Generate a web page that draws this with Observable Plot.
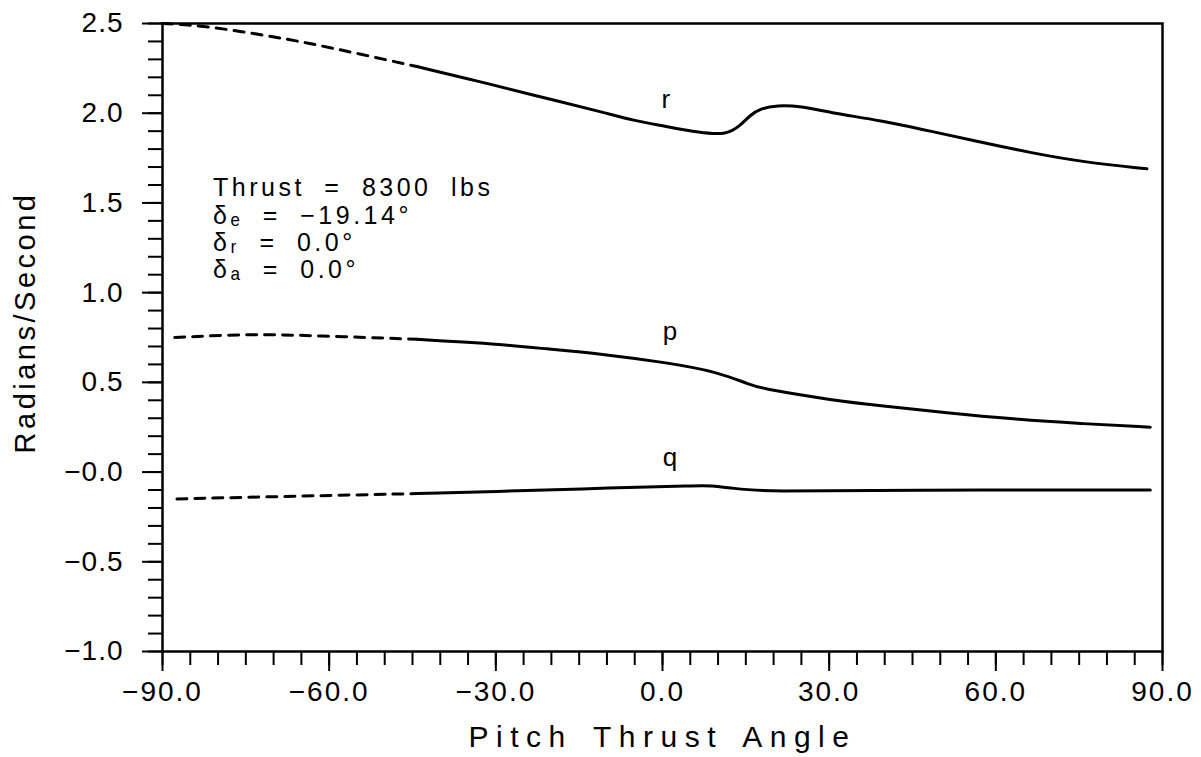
<!DOCTYPE html>
<html><head><meta charset="utf-8">
<script src="https://cdn.jsdelivr.net/npm/d3@7"></script>
<script src="https://cdn.jsdelivr.net/npm/@observablehq/plot@0.6"></script>
<style>
body{margin:0;background:#fff;overflow:hidden}
#chart svg{display:block}
g[aria-label="x-axis tick label"] text{letter-spacing:2px}
g[aria-label="y-axis tick label"] text{letter-spacing:1px}
</style></head><body><div id="chart"></div>
<script>
// Pitch thrust angle (deg) and rate (rad/s)
const rAngle = [-90, -83.3, -72.5, -63.5, -54.5, -44.2, -33.4, -24.4, -10.0, -5.3, 0, 6.8, 11.6, 14.0, 15.8, 17.6, 20.6, 24.8, 30.7, 39.2, 48.2, 57.2, 66.2, 75.2, 87.2];
const rRate  = [2.50, 2.49, 2.44, 2.39, 2.33, 2.26, 2.18, 2.11, 2.00, 1.96, 1.93, 1.89, 1.88, 1.93, 1.99, 2.025, 2.045, 2.04, 2.00, 1.96, 1.90, 1.84, 1.78, 1.73, 1.69];
const pAngle = [-87.8, -74.3, -62.2, -44.2, -32.3, -20.3, -11.3, 0.8, 9.8, 15.8, 18.8, 30.7, 39.2, 51.2, 63.1, 75.2, 87.8];
const pRate  = [0.75, 0.77, 0.76, 0.74, 0.72, 0.685, 0.66, 0.61, 0.56, 0.485, 0.46, 0.40, 0.37, 0.33, 0.295, 0.27, 0.25];
const qAngle = [-87.4, -74.3, -44.2, -20.3, -11.3, 6.8, 8.7, 12.5, 18.8, 42.8, 87.8];
const qRate  = [-0.15, -0.14, -0.12, -0.10, -0.09, -0.075, -0.075, -0.09, -0.11, -0.10, -0.10];
const dashEnd = -44.2; // curves are dashed up to this angle

const xTicks = [-90, -60, -30, 0, 30, 60, 90];
const yTicks = [-1.0, -0.5, 0.0, 0.5, 1.0, 1.5, 2.0, 2.5];
const xTitle = "Pitch Thrust Angle";
const yTitle = "Radians/Second";
const noteLines = ["Thrust = 8300 lbs", "δₑ = −19.14°", "δᵣ = 0.0°", "δₐ = 0.0°"];
const curveLabels = [
  {label: "r", angle: 0.6, rate: 2.075},
  {label: "p", angle: 1.35, rate: 0.78},
  {label: "q", angle: 1.35, rate: 0.08}
];

const rows = (series, a, v) => a.map((x, i) => ({series, angle: x, rate: v[i]}));
const data = [...rows("r", rAngle, rRate), ...rows("p", pAngle, pRate), ...rows("q", qAngle, qRate)];
const dashed = data.filter(d => d.angle <= dashEnd);
const solid = data.filter(d => d.angle >= dashEnd);

const minus = s => s.replace("-", "\u2212");
const fmtY = d => d === 0 ? "\u22120.0" : minus(d.toFixed(1));
const fmtX = d => minus(d.toFixed(1));

const xMinor = d3.range(-90, 91, 5);
const yMinor = d3.range(-10, 26, 1).map(d => d / 10);

const chart = Plot.plot({
  width: 1201, height: 757,
  marginLeft: 162, marginRight: 39, marginTop: 23, marginBottom: 106,
  x: {domain: [-90, 90], label: null},
  y: {domain: [-1, 2.5], label: null},
  style: {fontFamily: "'Liberation Sans', Arial, sans-serif", fontSize: "28px", color: "black", background: "white"},
  marks: [
    Plot.axisY(yMinor, {tickSize: 14, tickFormat: () => "", strokeWidth: 2, label: null}),
    Plot.axisY(yTicks, {tickSize: 20, tickPadding: 19, tickFormat: fmtY, strokeWidth: 2, fontSize: 28, label: null}),
    Plot.axisX(xMinor, {tickSize: 14, tickFormat: () => "", strokeWidth: 2, label: null}),
    Plot.axisX(xTicks, {tickSize: 20, tickPadding: 10, tickFormat: fmtX, strokeWidth: 2, fontSize: 28, label: null}),
    Plot.frame({stroke: "black", strokeWidth: 2.5}),
    Plot.line(dashed, {x: "angle", y: "rate", z: "series", stroke: "black", strokeWidth: 3, strokeDasharray: "10,8", curve: "basis"}),
    Plot.line(solid, {x: "angle", y: "rate", z: "series", stroke: "black", strokeWidth: 3, curve: "basis"}),
    Plot.text(curveLabels, {x: "angle", y: "rate", text: "label", fontSize: 26}),
    Plot.text([noteLines.join("\n")], {x: -80.9, y: 1.645, textAnchor: "start", lineAnchor: "top", lineHeight: 1.09, fontSize: 25}),
    Plot.text([xTitle], {frameAnchor: "bottom", lineAnchor: "middle", dy: 86, fontSize: 30}),
    Plot.text([yTitle], {frameAnchor: "left", lineAnchor: "middle", textAnchor: "middle", rotate: -90, dx: -137, dy: -15, fontSize: 29})
  ]
});

// letter / word spacing of the wide plotter lettering
const spacing = new Map([
  [xTitle, ["7.5px", "5px"]],
  [yTitle, ["3.5px", "0px"]]
]);
d3.select(chart).selectAll("text").each(function() {
  const t = this.textContent;
  if (spacing.has(t)) {
    const [ls, ws] = spacing.get(t);
    this.style.letterSpacing = ls; this.style.wordSpacing = ws;
  } else if (t.startsWith("Thrust")) {
    this.style.letterSpacing = "3.5px"; this.style.wordSpacing = "9px";
  }
});
document.getElementById("chart").appendChild(chart);
</script>
</body></html>
